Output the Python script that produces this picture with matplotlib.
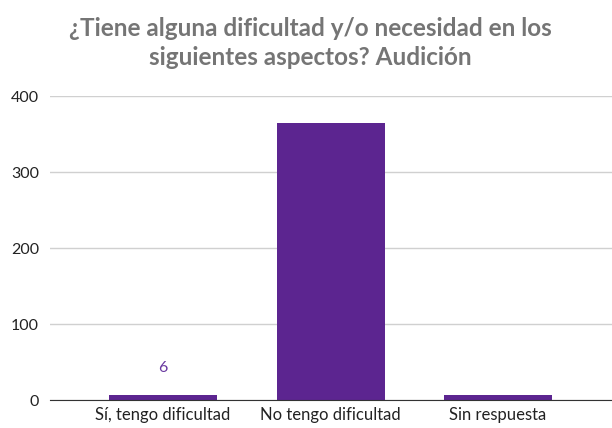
import matplotlib.pyplot as plt

categories = ["Sí, tengo dificultad", "No tengo dificultad", "Sin respuesta"]
values = [6, 364, 6]
labelled = [True, False, False]

plt.rcParams["font.family"] = ["Lato", "DejaVu Sans"]

fig = plt.figure(figsize=(6.12, 4.28), dpi=100)
ax = fig.add_axes([50 / 612, 28 / 428, 562 / 612, 304 / 428])

bar_color = "#5c2590"
x = range(len(categories))
ax.bar(x, values, width=0.645, color=bar_color, zorder=3)

for xi, v, show in zip(x, values, labelled):
    if show:
        ax.annotate(str(v), (xi, v), xytext=(0, 15), textcoords="offset points",
                    ha="center", va="bottom", color="#6a3aa0", fontsize=11.5)

ax.set_xlim(-0.675, 2.68)
ax.set_ylim(0, 400)
ax.set_yticks([0, 100, 200, 300, 400])
ax.set_xticks(list(x))
ax.set_xticklabels(categories, fontsize=12, color="#222222")
ax.tick_params(axis="y", length=0, labelsize=11.5, labelcolor="#222222", pad=8)
ax.tick_params(axis="x", length=0, pad=5)
ax.yaxis.grid(True, color="#d0d0d0", linewidth=1, zorder=0)
for s in ["top", "right", "left"]:
    ax.spines[s].set_visible(False)
ax.spines["bottom"].set_color("#333333")
ax.spines["bottom"].set_zorder(4)

fig.text(0.5 + 4 / 612, 1 - 43 / 428, "¿Tiene alguna dificultad y/o necesidad en los\nsiguientes aspectos? Audición",
         ha="center", va="center", fontsize=17.5, fontweight="bold", color="#757575",
         linespacing=1.35)

fig.savefig("out.png", dpi=100)
